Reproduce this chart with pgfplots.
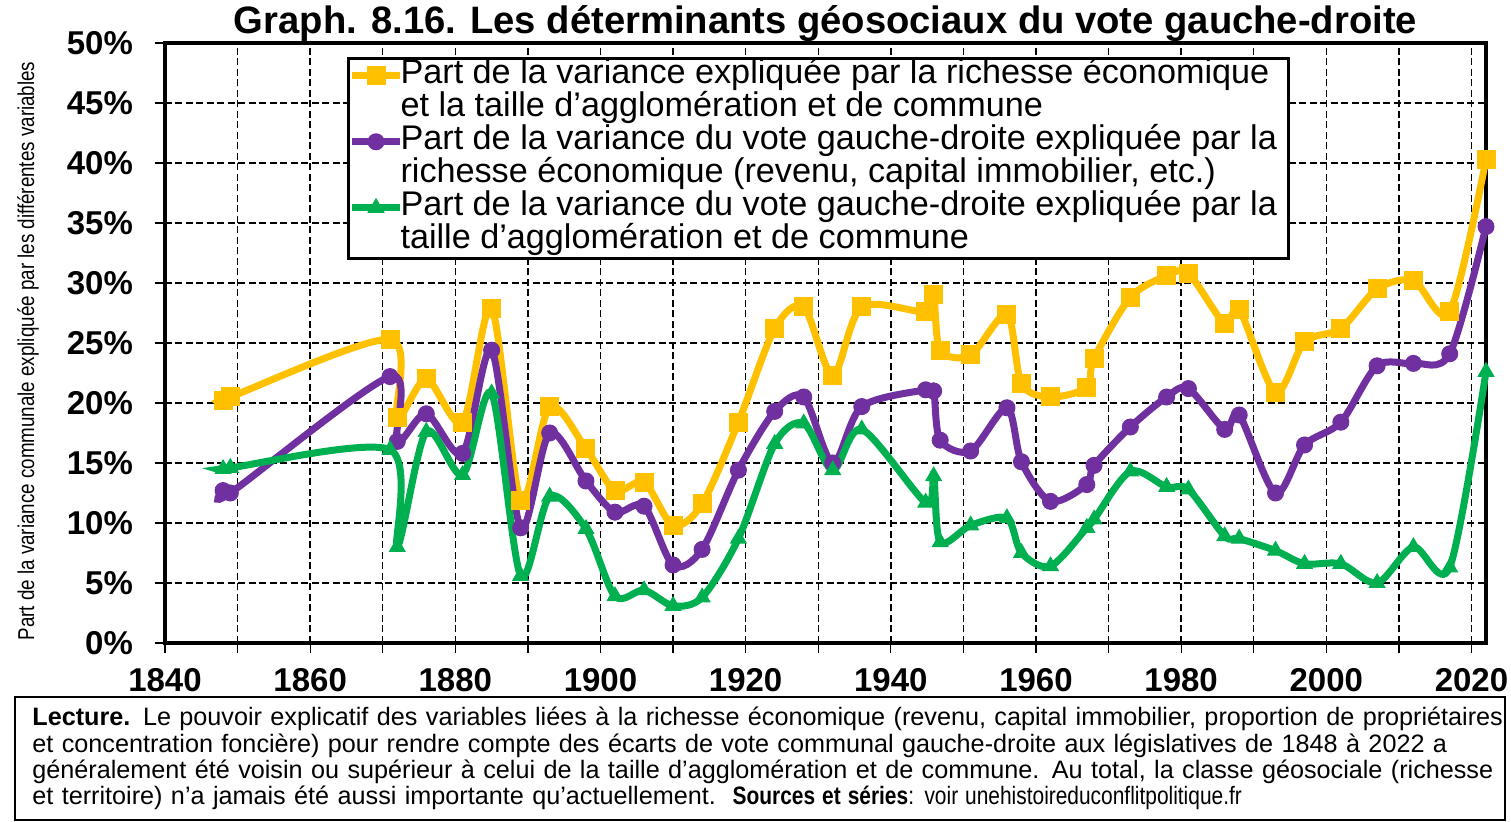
\documentclass[border=0pt]{standalone}
\usepackage{fontspec}
\setmainfont{Liberation Sans}
\usepackage{pgfplots}
\usepackage{pgfplotstable}
\pgfplotsset{compat=1.18}
\definecolor{cY}{HTML}{FFC000}
\definecolor{cP}{HTML}{7030A0}
\definecolor{cG}{HTML}{00B050}

\pgfplotstableread{
year val
1848 20.2
1849 20.5
1871 25.3
1872 18.8
1876 22.0
1881 18.4
1885 27.9
1889 11.9
1893 19.7
1898 16.2
1902 12.7
1906 13.4
1910 9.8
1914 11.6
1919 18.4
1924 26.2
1928 28.0
1932 22.3
1936 28.0
1944.8 27.6
1945.9 29.0
1946.8 24.4
1951 24.0
1956 27.4
1958 21.6
1962 20.5
1967 21.3
1968 23.7
1973 28.8
1978 30.6
1981 30.8
1986 26.6
1988 27.8
1993 20.9
1997 25.1
2002 26.2
2007 29.5
2012 30.2
2017 27.6
2022 40.3
}\tabY

\pgfplotstableread{
year val
1848 12.7
1849 12.5
1871 22.2
1872 16.8
1876 19.1
1881 15.8
1885 24.4
1889 9.6
1893 17.5
1898 13.5
1902 10.9
1906 11.4
1910 6.5
1914 7.8
1919 14.4
1924 19.3
1928 20.5
1932 15.0
1936 19.7
1944.8 21.1
1945.9 21.0
1946.8 16.9
1951 16.0
1956 19.6
1958 15.1
1962 11.8
1967 13.2
1968 14.8
1973 18.0
1978 20.5
1981 21.2
1986 17.8
1988 19.0
1993 12.5
1997 16.5
2002 18.4
2007 23.1
2012 23.3
2017 24.1
2022 34.7
}\tabP

\pgfplotstableread{
year val
1848 14.5
1849 14.6
1871 16.1
1872 8.0
1876 17.6
1881 14.0
1885 20.8
1889 5.6
1893 12.2
1898 9.5
1902 3.9
1906 4.4
1910 3.1
1914 3.8
1919 8.7
1924 16.6
1928 18.3
1932 14.4
1936 17.8
1944.8 11.7
1945.9 13.9
1946.8 8.4
1951 9.8
1956 10.4
1958 7.5
1962 6.4
1967 9.6
1968 10.3
1973 14.3
1978 13.0
1981 12.8
1986 8.9
1988 8.7
1993 7.7
1997 6.6
2002 6.6
2007 5.0
2012 8.0
2017 6.3
2022 22.6
}\tabG

\begin{document}
\begin{tikzpicture}
\useasboundingbox (-82.5pt,-89.5pt) rectangle (673pt,321.5pt);
\begin{axis}[
  at={(0,0)}, anchor=south west,
  scale only axis, width=660.5pt, height=300pt,
  xmin=1840, xmax=2022, ymin=0, ymax=50,
  clip=false,
  xtick={1840,1860,...,2020},
  minor xtick={1850,1870,...,2010},
  ytick={0,5,...,50},
  yticklabel={\pgfmathprintnumber{\tick}\%},
  /pgf/number format/1000 sep={},
  /pgf/number format/assume math mode=true,
  grid=both,
  major grid style={black, line width=0.7pt, dash pattern=on 3.5pt off 1.75pt},
  minor grid style={black, line width=0.7pt, dash pattern=on 3.5pt off 1.75pt},
  axis line style={black, line width=1.8pt},
  tick align=outside,
  xtick pos=lower, ytick pos=left,
  major tick length=5pt, minor tick length=5pt,
  every tick/.style={black, line width=0.6pt},
  tick label style={font=\bfseries\fontsize{16.5}{18}\selectfont},
  yticklabel style={xshift=-7.5pt},
  xticklabel style={yshift=-4pt},
  legend cell align=left,
  legend style={at={(rel axis cs:0.1378,0.977)}, anchor=north west,
    draw=black, line width=1.5pt, inner xsep=0pt, inner ysep=0.5pt,
    row sep=0pt, font=\fontsize{17.1}{16.5}\selectfont,
    /tikz/every odd column/.append style={column sep=-1.5pt},
    nodes={inner xsep=0pt, inner ysep=0pt, text height=12pt, text depth=4.5pt}},
  legend image code/.code={\draw[mark repeat=2,mark phase=2] plot coordinates {(0pt,0pt) (12pt,0pt) (24pt,0pt)};},
]
\addplot[cY, line width=3.5pt, smooth, mark=square*, mark size=4.5pt, mark options={solid, fill=cY, line width=0.5pt}] table[x=year,y=val] {\tabY};
\addlegendentry{Part de la variance expliquée par la richesse économique}
\addlegendimage{empty legend}
\addlegendentry{et la taille d'agglomération et de commune}
\addplot[cP, line width=3.5pt, smooth, mark=*, mark size=4pt, mark options={solid, fill=cP, line width=0.5pt}] table[x=year,y=val] {\tabP};
\addlegendentry{Part de la variance du vote gauche-droite expliquée par la\hspace*{5.5pt}}
\addlegendimage{empty legend}
\addlegendentry{richesse économique (revenu, capital immobilier, etc.)}
\addplot[cG, line width=3.5pt, smooth, mark=triangle*, mark size=4.5pt, mark options={solid, fill=cG, line width=0.5pt}] table[x=year,y=val] {\tabG};
\addlegendentry{Part de la variance du vote gauche-droite expliquée par la\hspace*{5.5pt}}
\addlegendimage{empty legend}
\addlegendentry{taille d'agglomération et de commune}
\end{axis}
\node[font=\bfseries\fontsize{19.1}{22}\selectfont, anchor=base] at (330.25pt,304.5pt) {Graph. 8.16. Les déterminants géosociaux du vote gauche-droite};
\node[rotate=90, font=\fontsize{11.45}{13}\selectfont] at (-68.5pt,146pt) {\scalebox{0.82}[1]{Part de la variance communale expliquée par les différentes variables}};
\draw[black, line width=1pt] (-75pt,-27pt) rectangle (670pt,-88.5pt);
\node[anchor=west, inner sep=0pt, text width=740pt, align=left, font=\fontsize{12.6}{13.15}\selectfont] at (-66.5pt,-57.75pt)
{\textbf{Lecture.} Le pouvoir explicatif des variables liées à la richesse économique (revenu, capital immobilier, proportion de propriétaires\\
et concentration foncière) pour rendre compte des écarts de vote communal gauche-droite aux législatives de 1848 à 2022 a\\
généralement été voisin ou supérieur à celui de la taille d'agglomération et de commune. Au total, la classe géosociale (richesse\\
et territoire) n'a jamais été aussi importante qu'actuellement.\ \ \scalebox{0.83}[1]{\textbf{Sources et séries}: voir unehistoireduconflitpolitique.fr}};
\end{tikzpicture}
\end{document}
